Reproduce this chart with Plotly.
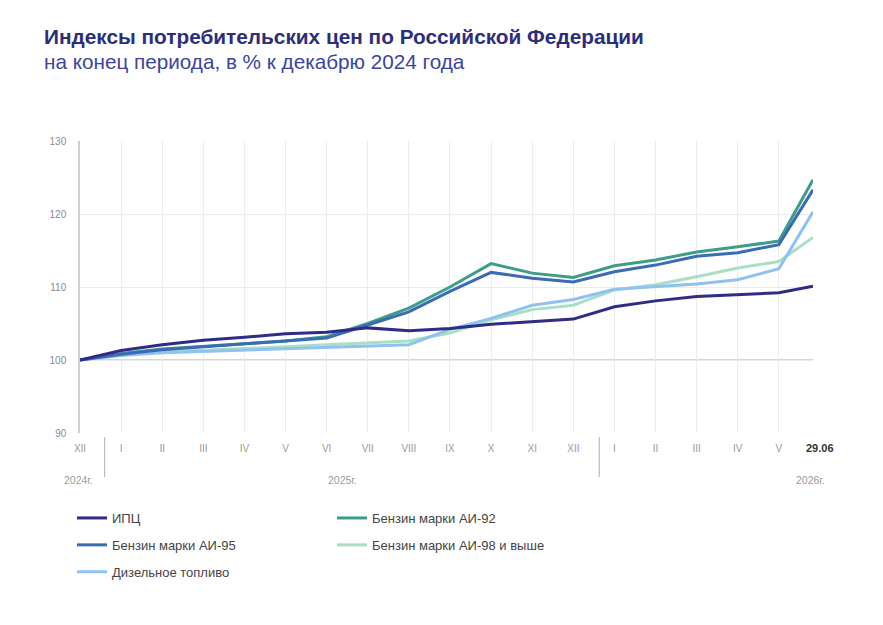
import plotly.graph_objects as go

# ---------------- data ----------------
x_pos = list(range(18)) + [17.83]
month_labels = ["XII", "I", "II", "III", "IV", "V", "VI", "VII", "VIII", "IX", "X", "XI", "XII",
                "I", "II", "III", "IV", "V"]
last_label = "29.06"
year_labels = ["2024г.", "2025г.", "2026г."]

cpi = [100, 101.3, 102.1, 102.7, 103.1, 103.6, 103.8, 104.4, 104.0, 104.3, 104.9, 105.3, 105.6,
       107.3, 108.1, 108.7, 109.0, 109.2, 110.1]
ai92 = [100, 100.9, 101.5, 101.9, 102.3, 102.6, 103.2, 105.0, 107.1, 110.0, 113.2, 111.9, 111.3,
        112.9, 113.7, 114.8, 115.5, 116.3, 124.7]
ai95 = [100, 100.8, 101.4, 101.8, 102.2, 102.5, 103.0, 104.8, 106.6, 109.4, 112.0, 111.2, 110.7,
        112.1, 113.0, 114.2, 114.7, 115.8, 123.3]
ai98 = [100, 100.7, 101.1, 101.3, 101.5, 101.8, 102.1, 102.3, 102.6, 103.7, 105.5, 106.9, 107.5,
        109.6, 110.3, 111.4, 112.6, 113.5, 116.8]
diesel = [100, 100.6, 101.0, 101.2, 101.4, 101.6, 101.8, 101.9, 102.1, 104.2, 105.7, 107.5, 108.3,
          109.7, 110.1, 110.4, 111.0, 112.5, 120.3]

# ---------------- layout geometry ----------------
W, H = 883, 625
L, R, T, B = 80, 813, 141, 433


def px_x(p):
    return (p - L) / (R - L)


def px_y(p):
    return (B - p) / (B - T)


fig = go.Figure()

series = [
    ("Бензин марки АИ-98 и выше", ai98, "#a9e0c4", "legend2", 2),
    ("Дизельное топливо", diesel, "#8fc1f2", "legend", 3),
    ("Бензин марки АИ-92", ai92, "#3c9d8a", "legend2", 1),
    ("Бензин марки АИ-95", ai95, "#3a6bb6", "legend", 2),
    ("ИПЦ", cpi, "#2f2b86", "legend", 1),
]
for name, vals, col, leg, rank in series:
    fig.add_trace(go.Scatter(
        x=x_pos, y=vals, mode="lines", name=name,
        line=dict(color=col, width=3),
        legend=leg, legendrank=rank, legendgroup=name,
        hoverinfo="skip",
    ))

fig.update_layout(
    width=W, height=H,
    margin=dict(l=L, r=W - R, t=T, b=H - B),
    paper_bgcolor="white", plot_bgcolor="white",
    font=dict(family="Liberation Sans, Arial, sans-serif", color="#444"),
    showlegend=True,
    legend=dict(x=px_x(72), y=px_y(503), xanchor="left", yanchor="top",
                orientation="v", font=dict(size=13, color="#444"),
                tracegroupgap=7, bgcolor="rgba(0,0,0,0)", itemwidth=30),
    legend2=dict(x=px_x(332), y=px_y(503), xanchor="left", yanchor="top",
                 orientation="v", font=dict(size=13, color="#444"),
                 tracegroupgap=7, bgcolor="rgba(0,0,0,0)", itemwidth=30),
)

fig.update_xaxes(
    range=[0, x_pos[-1]],
    tickmode="array", tickvals=list(range(18)), ticktext=month_labels,
    tickfont=dict(size=10, color="#9a9a9a"),
    ticks="", ticklabelstandoff=8,
    showgrid=True, gridcolor="#ececec", gridwidth=1,
    showline=False, zeroline=False,
)
fig.update_yaxes(
    range=[90, 130], tickvals=[90, 100, 110, 120, 130],
    tickfont=dict(size=10, color="#8a8a8a"),
    ticks="", ticklabelstandoff=10,
    showgrid=True, gridcolor="#ececec", gridwidth=1,
    showline=True, linecolor="#cfcfcf", linewidth=1.5,
    zeroline=False,
)

# baseline at 100
fig.add_shape(type="line", xref="paper", yref="y", x0=0, x1=1, y0=100, y1=100,
              line=dict(color="#c8c8c8", width=1.5), layer="below")

# year separators
for sx in [0.6, 12.63]:
    fig.add_shape(type="line", xref="x", yref="paper", x0=sx, x1=sx,
                  y0=px_y(437), y1=px_y(477), line=dict(color="#b0b0b0", width=1))

# year labels
for lbl, xp in zip(year_labels, [78, 342, 810]):
    fig.add_annotation(x=px_x(xp), y=px_y(480), xref="paper", yref="paper",
                       text=lbl, showarrow=False, xanchor="center", yanchor="middle",
                       font=dict(size=10.5, color="#9a9a9a"))

# last-date label
fig.add_annotation(x=px_x(820), y=px_y(448), xref="paper", yref="paper",
                   text="<b>" + last_label + "</b>", showarrow=False,
                   xanchor="center", yanchor="middle",
                   font=dict(size=11, color="#333"))

# title & subtitle
fig.add_annotation(x=px_x(42), y=px_y(37), xref="paper", yref="paper",
                   text="<b>Индексы потребительских цен по Российской Федерации</b>",
                   showarrow=False, xanchor="left", yanchor="middle",
                   font=dict(size=20.8, color="#2c2e7c"))
fig.add_annotation(x=px_x(42), y=px_y(61), xref="paper", yref="paper",
                   text="на конец периода, в % к декабрю 2024 года",
                   showarrow=False, xanchor="left", yanchor="middle",
                   font=dict(size=20.7, color="#3b45a0"))

fig.write_html("out.html")
